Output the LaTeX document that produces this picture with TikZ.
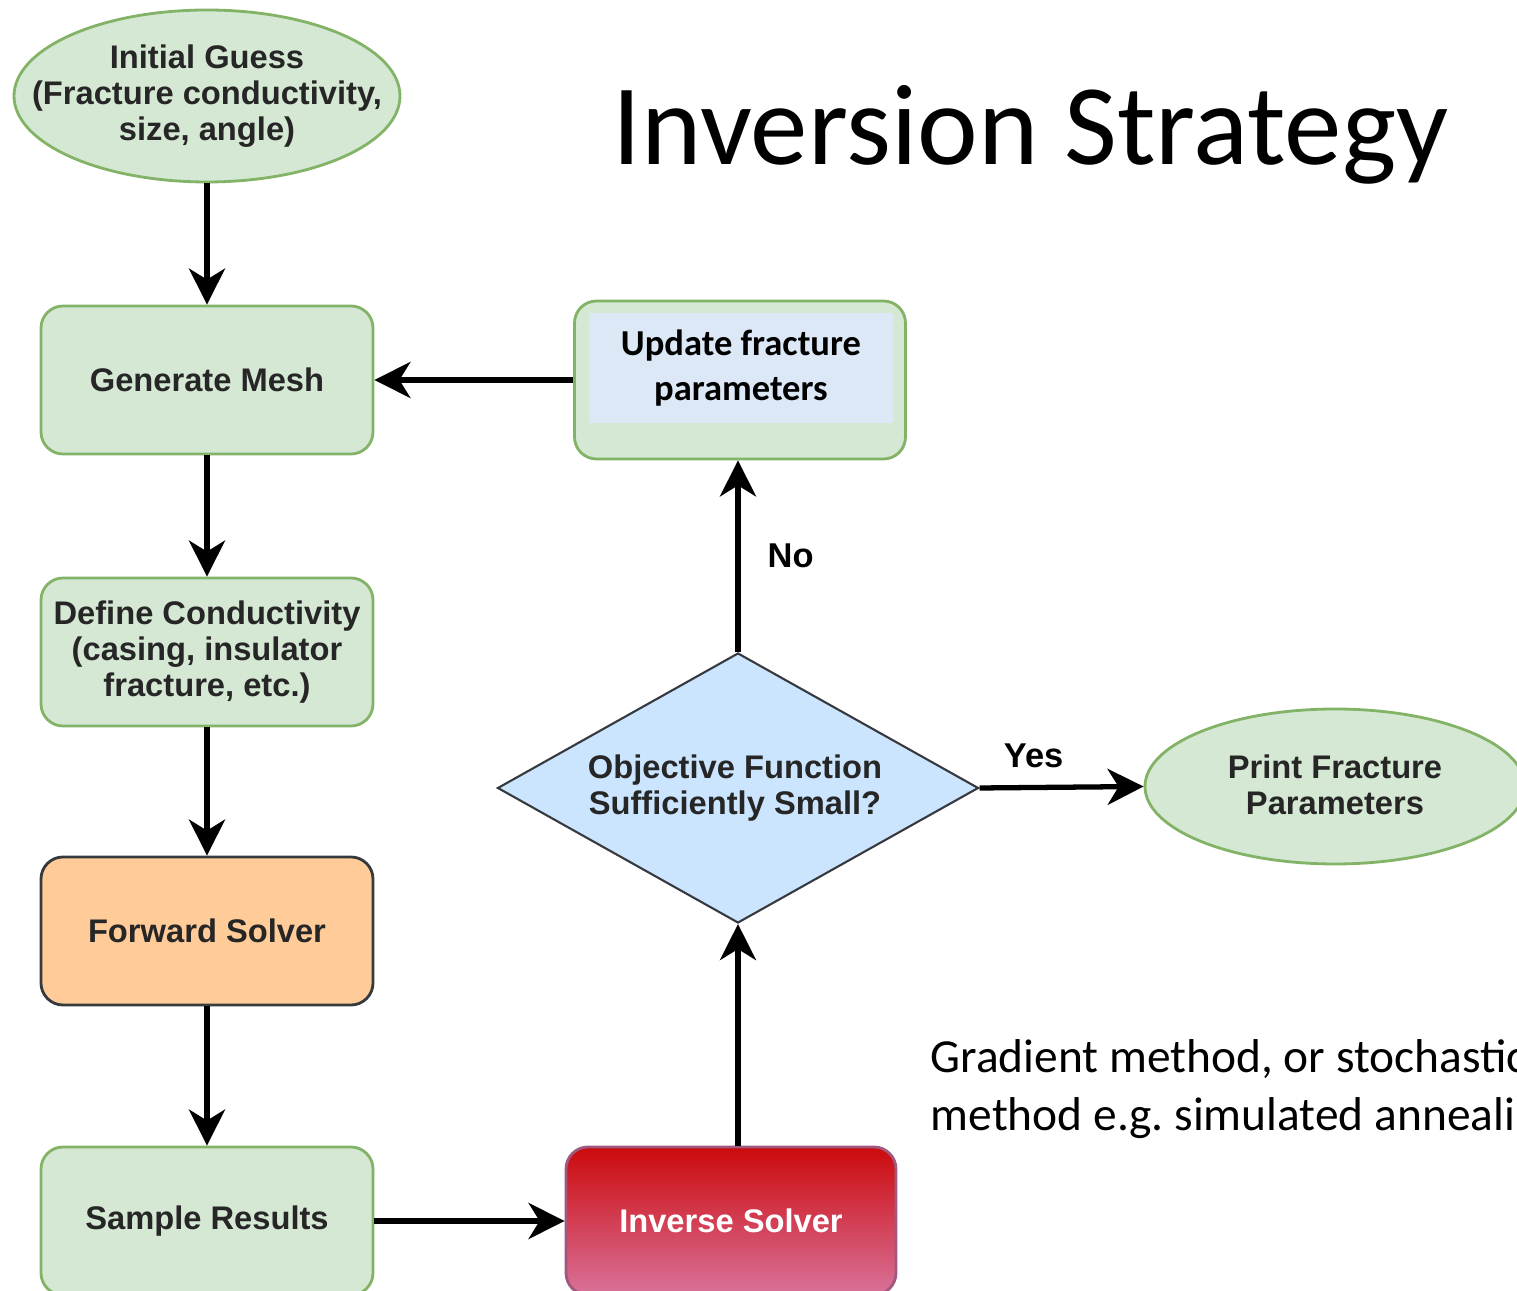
\documentclass[tikz,border=0pt]{standalone}
\usepackage{fontspec}
\setmainfont{Carlito}
\newfontfamily\flowfont{Liberation Sans}
\usetikzlibrary{arrows.meta, positioning, calc, shapes.geometric}

\definecolor{boxgreen}{HTML}{D5E8D4}
\definecolor{edgegreen}{HTML}{82B366}
\definecolor{boxorange}{HTML}{FFCC99}
\definecolor{boxblue}{HTML}{CCE5FF}
\definecolor{paleblue}{HTML}{DCE8F5}
\definecolor{edgegray}{HTML}{36393D}
\definecolor{txtgray}{HTML}{262626}
\definecolor{invtop}{HTML}{CC0A0C}
\definecolor{invbot}{HTML}{D9729A}
\definecolor{invedge}{HTML}{A0587E}

\begin{document}
\frenchspacing
\begin{tikzpicture}[
  flow/.style={font=\flowfont\bfseries\fontsize{9.3}{10.3}\selectfont, text=txtgray, align=center},
  pbox/.style={flow, draw=edgegreen, fill=boxgreen, line width=0.8pt, rounded corners=0.22cm, minimum width=3.32cm, minimum height=1.48cm, inner sep=0pt},
  term/.style={ellipse, draw=edgegreen, fill=boxgreen, line width=0.8pt, inner sep=0pt},
  lbl/.style={font=\flowfont\bfseries\fontsize{9.8}{11}\selectfont, text=black, inner sep=0pt},
  arrow/.style={-{Stealth[length=0.36cm, width=0.36cm, inset=0.11cm]}, line width=1.5pt}
]
  \useasboundingbox (0,0) rectangle (15.17,-12.91);
  \clip (0,0) rectangle (15.17,-12.91);

  % left column
  \node[term, minimum width=3.86cm, minimum height=1.72cm] (init) at (2.07,-0.96) {};
  \node[flow, inner sep=0pt] (initTxt) at (2.07,-0.96) {Initial Guess\\(Fracture conductivity,\\size, angle)};
  \node[pbox] (mesh)   at (2.07,-3.80)  {Generate Mesh};
  \node[pbox] (cond)   at (2.07,-6.52)  {Define Conductivity\\(casing, insulator\\fracture, etc.)};
  \node[pbox, draw=edgegray, fill=boxorange] (fwd) at (2.07,-9.31) {Forward Solver};
  \node[pbox] (sample) at (2.07,-12.21) {Sample Results};

  % right column
  \node[pbox, draw=invedge, top color=invtop, bottom color=invbot, text=white, minimum width=3.30cm] (inv) at (7.31,-12.21) {Inverse Solver};
  \node[diamond, draw=edgegray, fill=boxblue, line width=0.6pt, inner sep=0pt,
        minimum width=4.81cm, minimum height=2.70cm] (dec) at (7.38,-7.88) {};
  \node[flow, inner sep=0pt] (decTxt) at (7.35,-7.88) {Objective Function\\Sufficiently Small?};
  \node[pbox, minimum width=3.31cm, minimum height=1.58cm] (update) at (7.40,-3.80) {};
  \node[fill=paleblue, minimum width=3.04cm, minimum height=1.10cm, inner sep=0pt, align=center,
        font=\bfseries\fontsize{10.4}{12.8}\selectfont] (updTxt) at (7.41,-3.68) {Update fracture\\parameters};
  \node[term, minimum width=3.80cm, minimum height=1.55cm] (print) at (13.35,-7.865) {};
  \node[flow, inner sep=0pt] (printTxt) at (13.35,-7.85) {Print Fracture\\Parameters};

  % connectors
  \draw[arrow] (init)   -- (mesh);
  \draw[arrow] (mesh)   -- (cond);
  \draw[arrow] (cond)   -- (fwd);
  \draw[arrow] (fwd)    -- (sample);
  \draw[arrow] (sample) -- (inv);
  \draw[arrow] (inv.north -| dec.south) -- (dec.south);
  \draw[arrow] (dec.north) -- node[lbl, right=0.27cm] (noLbl) {No} (dec.north |- update.south);
  \draw[arrow] (update) -- (mesh);
  \draw[arrow] (dec.east) -- node[lbl, pos=0.33, above=0.17cm] (yesLbl) {Yes} (print.west);

  % title and side note
  \node[anchor=base west, inner sep=0pt, font=\fontsize{32.7}{38}\selectfont] (title) at (6.12,-1.65) {Inversion Strategy};
  \node[anchor=west, align=left, inner sep=0pt, font=\fontsize{13.5}{16.5}\selectfont] (note) at (9.30,-10.895)
    {Gradient method, or stochastic\\method e.g. simulated annealing};
\end{tikzpicture}
\end{document}
